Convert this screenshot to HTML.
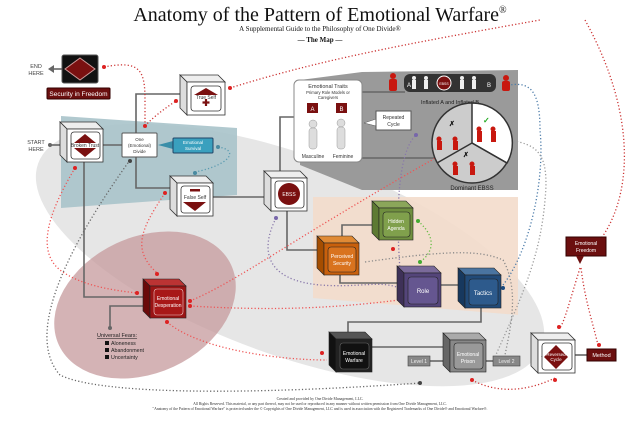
<!DOCTYPE html>
<html><head><meta charset="utf-8"><style>
html,body{margin:0;padding:0;background:#fff;width:639px;height:426px;overflow:hidden;}
svg{display:block;font-family:"Liberation Sans",sans-serif;overflow:hidden;}
.s{font-family:"Liberation Serif",serif;}
</style></head><body>
<svg width="639" height="426" viewBox="0 0 639 426" xmlns="http://www.w3.org/2000/svg">
<!-- backgrounds -->
<ellipse cx="290" cy="255" rx="268" ry="100" transform="rotate(20 290 255)" fill="#e6e6e6"/>
<polygon points="61,116 237,128 237,195 61,208" fill="#a9c3ca" opacity="0.9"/>
<polygon points="313,197 518,197 518,315 313,298" fill="#f3dccb" opacity="0.9"/>
<ellipse cx="145" cy="305" rx="95" ry="68" transform="rotate(-25 145 305)" fill="#c69a9c" opacity="0.75"/>
<polygon points="300,80 362,72 518,70 518,190 362,190 300,165" fill="#9a9a9a"/>

<!-- title -->
<text x="320" y="21" text-anchor="middle" class="s" font-size="20" fill="#111">Anatomy of the Pattern of Emotional Warfare<tspan font-size="10" dy="-8">®</tspan></text>
<text x="320" y="31" text-anchor="middle" class="s" font-size="7" fill="#111">A Supplemental Guide to the Philosophy of One Divide®</text>
<text x="320" y="42" text-anchor="middle" class="s" font-size="7" font-weight="bold" fill="#111">— The Map —</text>

<!-- connector lines -->
<g stroke="#666" stroke-width="1.6" fill="none">
<line x1="50" y1="145" x2="62" y2="145"/>
<line x1="103" y1="145" x2="122" y2="145"/>
<polyline points="136,133 136,94 180,94"/>
<polyline points="136,157 136,188 172,188"/>
<line x1="213" y1="197" x2="266" y2="197"/>
<polyline points="280,172 280,117 294,117"/>
<polyline points="84,162 84,297 145,297"/>
<polyline points="145,306 110,306 110,328"/>
<polyline points="287,211 287,250 319,250"/>
<polyline points="342,237 342,225 374,225"/>
<polyline points="340,275 340,283 399,283"/>
<line x1="441" y1="285" x2="460" y2="285"/>
<polyline points="481,308 481,322 348,322 348,334"/>
<line x1="372" y1="347" x2="445" y2="347"/>
<line x1="430" y1="361" x2="445" y2="361"/>
<line x1="486" y1="361" x2="493" y2="361"/>
<line x1="575" y1="355" x2="588" y2="355"/>
<line x1="362" y1="92" x2="405" y2="92"/>
<line x1="362" y1="158" x2="440" y2="158"/>
</g>
<polygon points="48,69 54,65 54,73" fill="#666"/><line x1="52" y1="69" x2="62" y2="69" stroke="#666" stroke-width="1.6"/>
<circle cx="50" cy="145" r="2" fill="#666"/>
<circle cx="110" cy="328" r="2" fill="#666"/>

<!-- dotted curves -->
<g fill="none" stroke-width="1.3" stroke-dasharray="1.2 2.2">
<path d="M104,67 C140,60 145,70 145,100 L145,126" stroke="#c33"/>
<path d="M145,126 C155,115 170,105 176,101" stroke="#c33"/>
<path d="M230,88 C320,60 400,45 540,20" stroke="#c33"/>
<path d="M585,20 C640,120 630,200 600,240" stroke="#c33"/>
<path d="M218,147 C240,150 230,165 195,172" stroke="#5a9ab0"/>
<path d="M75,168 C50,210 35,250 60,270 C80,285 110,290 137,293" stroke="#e55"/>
<path d="M165,193 C140,230 132,250 157,273" stroke="#e55"/>
<path d="M190,301 C240,280 290,240 453,148" stroke="#e55"/>
<path d="M190,306 C260,310 320,310 399,300" stroke="#e55"/>
<path d="M167,322 C200,350 280,360 327,360" stroke="#e55"/>
<path d="M130,160 C80,230 20,330 60,375 C100,395 250,395 420,383" stroke="#666"/>
<path d="M276,218 C260,250 265,280 320,285 C360,288 380,280 399,288" stroke="#87a"/>
<path d="M400,270 C395,200 400,150 416,135" stroke="#87a"/>
<path d="M418,221 C440,240 430,255 420,262" stroke="#6b4"/>
<path d="M365,262 C450,250 480,250 503,260 C520,290 510,330 505,355" stroke="#888"/>
<path d="M503,285 C530,250 545,180 540,130 C540,90 530,80 505,86" stroke="#4a7aa8"/>
<path d="M495,357 C520,300 540,260 545,200 C550,150 535,145 510,140" stroke="#999"/>
<path d="M472,380 C500,395 530,390 555,378" stroke="#c33"/>
<path d="M580,268 C570,300 565,320 560,328" stroke="#c33"/>
<path d="M581,268 C585,300 592,320 598,345" stroke="#c33"/>
</g>
<g fill="#d22"><circle cx="104" cy="67" r="2"/><circle cx="145" cy="126" r="2"/><circle cx="176" cy="101" r="2"/><circle cx="230" cy="88" r="2"/><circle cx="75" cy="168" r="2"/><circle cx="165" cy="193" r="2"/><circle cx="137" cy="293" r="2"/><circle cx="157" cy="274" r="2"/><circle cx="190" cy="301" r="2"/><circle cx="190" cy="306" r="2"/><circle cx="167" cy="322" r="2"/><circle cx="453" cy="148" r="2"/><circle cx="393" cy="249" r="2"/><circle cx="322" cy="353" r="2"/><circle cx="472" cy="380" r="2"/><circle cx="555" cy="380" r="2"/><circle cx="559" cy="327" r="2"/><circle cx="599" cy="345" r="2"/></g>
<circle cx="218" cy="147" r="2" fill="#4a8aa0"/><circle cx="195" cy="173" r="2" fill="#4a8aa0"/>
<circle cx="503" cy="288" r="2" fill="#1a4a80"/><circle cx="505" cy="86" r="2" fill="#1a4a80"/>
<circle cx="420" cy="383" r="2" fill="#444"/><circle cx="130" cy="161" r="2" fill="#444"/>
<circle cx="399" cy="290" r="2" fill="#76a"/><circle cx="276" cy="218" r="2" fill="#76a"/><circle cx="416" cy="135" r="2" fill="#76a"/>
<circle cx="418" cy="221" r="2" fill="#4a3"/><circle cx="420" cy="262" r="2" fill="#4a3"/>

<!-- Security in Freedom -->
<rect x="62" y="55" width="36" height="28" rx="2" fill="#111" stroke="#555"/>
<polygon points="80,58 95,69 80,80 65,69" fill="#7a1010" stroke="#c99"/>
<rect x="47" y="88" width="63" height="11" rx="1" fill="#6b0f0f" stroke="#300"/>
<text x="78.5" y="96" text-anchor="middle" font-size="6.5" fill="#fff">Security in Freedom</text>
<text x="36" y="68" text-anchor="middle" font-size="5.5" fill="#444">END</text>
<text x="36" y="75" text-anchor="middle" font-size="5.5" fill="#444">HERE</text>
<text x="36" y="144" text-anchor="middle" font-size="5.5" fill="#444">START</text>
<text x="36" y="151" text-anchor="middle" font-size="5.5" fill="#444">HERE</text>

<g stroke="#333" stroke-width="0.8">
<polygon points="180,75 218,75 225,82 187,82" fill="#eee"/><polygon points="180,75 187,82 187,115 180,108" fill="#ddd"/><rect x="187" y="82" width="38" height="33" fill="#fff"/>
<rect x="191" y="86" width="30" height="25" rx="3" fill="#fff"/>
<polygon points="60,122 96,122 103,129 67,129" fill="#eee"/><polygon points="60,122 67,129 67,162 60,155" fill="#ddd"/><rect x="67" y="129" width="36" height="33" fill="#fff"/>
<rect x="71" y="132" width="29" height="27" rx="3" fill="#fff"/>
<polygon points="170,176 206,176 213,183 177,183" fill="#eee"/><polygon points="170,176 177,183 177,216 170,209" fill="#ddd"/><rect x="177" y="183" width="36" height="33" fill="#fff"/>
<rect x="181" y="186" width="29" height="27" rx="3" fill="#fff"/>
<polygon points="264,171 300,171 307,178 271,178" fill="#eee"/><polygon points="264,171 271,178 271,211 264,204" fill="#ddd"/><rect x="271" y="178" width="36" height="33" fill="#fff"/>
<rect x="275" y="181" width="29" height="27" rx="3" fill="#fff"/>
<polygon points="531,333 568,333 575,340 538,340" fill="#eee"/><polygon points="531,333 538,340 538,373 531,366" fill="#ddd"/><rect x="538" y="340" width="37" height="33" fill="#fff"/>
<rect x="542" y="343" width="30" height="27" rx="3" fill="#fff"/>
</g>
<polygon points="194,95 206,88 218,95" fill="#7a1010"/><path d="M206,99 v7 M202.5,102.5 h7" stroke="#7a1010" stroke-width="2.2"/>
<text x="206" y="99" text-anchor="middle" font-size="5" fill="#333">True Self</text>
<polygon points="74,143 85,134 96,143" fill="#7a1010"/><polygon points="74,148 85,157 96,148" fill="#7a1010"/>
<text x="85" y="147" text-anchor="middle" font-size="5" fill="#333">Broken Trust</text>
<rect x="190" y="189" width="10" height="2.5" fill="#7a1010"/><polygon points="183,202 206,202 195,211" fill="#7a1010"/>
<text x="195" y="199" text-anchor="middle" font-size="5" fill="#333">False Self</text>
<circle cx="289" cy="194" r="11" fill="#7a1010"/>
<text x="289" y="196" text-anchor="middle" font-size="5" fill="#fff">EBSS</text>
<polygon points="556,345 568,357 556,369 544,357" fill="#7a1010"/>
<text x="556" y="356" text-anchor="middle" font-size="4.5" fill="#fff">Reversed</text><text x="556" y="361" text-anchor="middle" font-size="4.5" fill="#fff">Cycle</text>
<text x="541" y="358" font-size="5" fill="#333">-</text>

<rect x="122" y="133" width="35" height="24" rx="1" fill="#fff" stroke="#555"/>
<text x="139.5" y="141" text-anchor="middle" font-size="4.5" fill="#333">One</text>
<text x="139.5" y="147" text-anchor="middle" font-size="4.5" fill="#333">(Emotional)</text>
<text x="139.5" y="153" text-anchor="middle" font-size="4.5" fill="#333">Divide</text>
<polygon points="158,145 173,141 173,149" fill="#3a8ea8"/>
<rect x="173" y="138" width="40" height="15" rx="1" fill="#3aa0be" stroke="#246"/>
<text x="193" y="144" text-anchor="middle" font-size="4.5" fill="#fff">Emotional</text><text x="193" y="150" text-anchor="middle" font-size="4.5" fill="#fff">Survival</text>

<rect x="294" y="80" width="68" height="82" rx="5" fill="#fff" stroke="#888"/>
<text x="328" y="88" text-anchor="middle" font-size="5.5" fill="#333">Emotional Traits</text>
<text x="328" y="94" text-anchor="middle" font-size="4.2" fill="#333">Primary Role Models or</text>
<text x="328" y="99" text-anchor="middle" font-size="4.2" fill="#333">Caregivers</text>
<rect x="307" y="103" width="11" height="10" fill="#7a1010"/><text x="312.5" y="111" text-anchor="middle" font-size="6" fill="#fff">A</text>
<rect x="336" y="103" width="11" height="10" fill="#7a1010"/><text x="341.5" y="111" text-anchor="middle" font-size="6" fill="#fff">B</text>
<g fill="#ddd" stroke="#999" stroke-width="0.5"><circle cx="313" cy="124" r="4"/><rect x="309" y="128" width="8" height="21" rx="3"/><circle cx="341" cy="123" r="4"/><rect x="337" y="127" width="8" height="22" rx="3"/></g>
<text x="313" y="158" text-anchor="middle" font-size="5" fill="#333">Masculine</text>
<text x="343" y="158" text-anchor="middle" font-size="5" fill="#333">Feminine</text>
<polygon points="364,123 376,119 376,126" fill="#fff" stroke="#555" stroke-width="0.5"/>
<rect x="376" y="111" width="35" height="19" fill="#fff" stroke="#555"/>
<text x="393.5" y="119" text-anchor="middle" font-size="5" fill="#333">Repeated</text><text x="393.5" y="126" text-anchor="middle" font-size="5" fill="#333">Cycle</text>

<rect x="404" y="74" width="92" height="18" rx="6" fill="#333"/>
<circle cx="444" cy="83" r="7" fill="#7a1010" stroke="#fff"/><text x="444" y="85" text-anchor="middle" font-size="3.5" fill="#fff">EBSS</text>
<g fill="#eee"><circle cx="414" cy="78" r="2"/><rect x="412" y="80" width="4" height="9"/><circle cx="426" cy="78" r="2"/><rect x="424" y="80" width="4" height="9"/><circle cx="462" cy="78" r="2"/><rect x="460" y="80" width="4" height="9"/><circle cx="474" cy="78" r="2"/><rect x="472" y="80" width="4" height="9"/></g>
<text x="407" y="87" font-size="6" fill="#fff">A</text><text x="487" y="87" font-size="6" fill="#fff">B</text>
<g fill="#c8180f"><circle cx="393" cy="76" r="3"/><rect x="389" y="79" width="8" height="12" rx="2"/><circle cx="506" cy="78" r="3"/><rect x="502" y="81" width="8" height="10" rx="2"/></g>
<text x="450" y="104" text-anchor="middle" font-size="5.5" fill="#222">Inflated A and Inflated B</text>
<circle cx="472" cy="143" r="40" fill="#ccc" stroke="#333" stroke-width="1.5"/>
<path d="M472,143 L472,103 A40,40 0 0 1 507,163 Z" fill="#fff" stroke="#333" stroke-width="1.5"/>
<path d="M472,143 L437,163 M472,143 L507,163" stroke="#333" stroke-width="1.5"/>
<g fill="#c8180f"><circle cx="439" cy="139" r="2.5"/><rect x="437" y="141" width="5" height="9"/><circle cx="455" cy="139" r="2.5"/><rect x="453" y="141" width="5" height="9"/><circle cx="479" cy="129" r="2.5"/><rect x="477" y="131" width="5" height="11"/><circle cx="493" cy="129" r="2.5"/><rect x="491" y="131" width="5" height="11"/><circle cx="455" cy="164" r="2.5"/><rect x="453" y="166" width="5" height="9"/><circle cx="472" cy="164" r="2.5"/><rect x="470" y="166" width="5" height="9"/></g>
<text x="449" y="126" font-size="7" font-weight="bold" fill="#111">✗</text>
<text x="463" y="157" font-size="7" font-weight="bold" fill="#111">✗</text>
<text x="483" y="123" font-size="8" font-weight="bold" fill="#2a2">✓</text>
<text x="472" y="190" text-anchor="middle" font-size="6" fill="#222">Dominant EBSS</text>

<g stroke="#222" stroke-width="0.6">
<polygon points="372,201 406,201 413,208 379,208" fill="#8ba65a"/><polygon points="372,201 379,208 379,240 372,233" fill="#5d7a33"/><rect x="379" y="208" width="34" height="32" fill="#6f8f3f"/>
<rect x="383" y="212" width="27" height="25" rx="3" fill="#80a04c"/>
<polygon points="317,236 352,236 359,243 324,243" fill="#e08a35"/><polygon points="317,236 324,243 324,275 317,268" fill="#a54d00"/><rect x="324" y="243" width="35" height="32" fill="#c9600c"/>
<rect x="328" y="247" width="28" height="25" rx="3" fill="#d9731e"/>
<polygon points="397,266 434,266 441,273 404,273" fill="#7a6a9a"/><polygon points="397,266 404,273 404,307 397,300" fill="#3e3158"/><rect x="404" y="273" width="37" height="34" fill="#54457a"/>
<rect x="408" y="277" width="30" height="27" rx="3" fill="#655690"/>
<polygon points="458,268 494,268 501,275 465,275" fill="#4a74a0"/><polygon points="458,268 465,275 465,308 458,301" fill="#17385e"/><rect x="465" y="275" width="36" height="33" fill="#214a78"/>
<rect x="469" y="279" width="29" height="26" rx="3" fill="#2d5a8c"/>
<polygon points="329,332 365,332 372,339 336,339" fill="#555"/><polygon points="329,332 336,339 336,372 329,365" fill="#111"/><rect x="336" y="339" width="36" height="33" fill="#222"/>
<rect x="340" y="343" width="29" height="26" rx="3" fill="#111" stroke="#666"/>
<polygon points="443,333 479,333 486,340 450,340" fill="#aaa"/><polygon points="443,333 450,340 450,372 443,365" fill="#666"/><rect x="450" y="340" width="36" height="32" fill="#888"/>
<rect x="454" y="343" width="29" height="26" rx="3" fill="#999"/>
<polygon points="143,279 179,279 186,286 150,286" fill="#b33"/><polygon points="143,279 150,286 150,318 143,311" fill="#6a0a0a"/><rect x="150" y="286" width="36" height="32" fill="#9a1414"/>
<rect x="154" y="289" width="29" height="26" rx="3" fill="#a81818" stroke="#ecc"/>
</g>
<g font-size="5" fill="#fff" text-anchor="middle">
<text x="396" y="223">Hidden</text><text x="396" y="230">Agenda</text>
<text x="342" y="258">Perceived</text><text x="342" y="265">Security</text>
<text x="423" y="293" font-size="6">Role</text>
<text x="483" y="295" font-size="6">Tactics</text>
<text x="354" y="355">Emotional</text><text x="354" y="362">Warfare</text>
<text x="468" y="356">Emotional</text><text x="468" y="363">Prison</text>
<text x="168" y="300">Emotional</text><text x="168" y="307">Desperation</text>
</g>
<rect x="408" y="356" width="22" height="10" fill="#888" stroke="#444" stroke-width="0.6"/><text x="419" y="363" text-anchor="middle" font-size="5" fill="#eee">Level 1</text>
<rect x="493" y="356" width="27" height="10" fill="#888" stroke="#444" stroke-width="0.6"/><text x="506.5" y="363" text-anchor="middle" font-size="5" fill="#eee">Level 2</text>
<rect x="587" y="349" width="29" height="12" fill="#6b0f0f" stroke="#300"/><text x="601.5" y="357" text-anchor="middle" font-size="5.5" fill="#fff">Method</text>
<rect x="566" y="237" width="40" height="19" fill="#6b0f0f" stroke="#300"/>
<polygon points="576,256 584,256 580,264" fill="#6b0f0f"/>
<text x="586" y="245" text-anchor="middle" font-size="5" fill="#fff">Emotional</text><text x="586" y="252" text-anchor="middle" font-size="5" fill="#fff">Freedom</text>

<text x="97" y="337" font-size="5.5" fill="#222" text-decoration="underline">Universal Fears:</text>
<g font-size="5.3" fill="#222"><rect x="105" y="341" width="4" height="4" fill="#111"/><text x="111" y="345">Aloneness</text>
<rect x="105" y="348" width="4" height="4" fill="#111"/><text x="111" y="352">Abandonment</text>
<rect x="105" y="355" width="4" height="4" fill="#111"/><text x="111" y="359">Uncertainty</text></g>

<g class="s" font-size="3.8" fill="#333" text-anchor="middle">
<text x="320" y="400">Created and provided by One Divide Management, LLC.</text>
<text x="320" y="405">All Rights Reserved. This material, or any part thereof, may not be used or reproduced in any manner without written permission from One Divide Management, LLC.</text>
<text x="320" y="410">"Anatomy of the Pattern of Emotional Warfare" is protected under the © Copyrights of One Divide Management, LLC and is used in association with the Registered Trademarks of One Divide® and Emotional Warfare®.</text>
</g>
</svg>
</body></html>
